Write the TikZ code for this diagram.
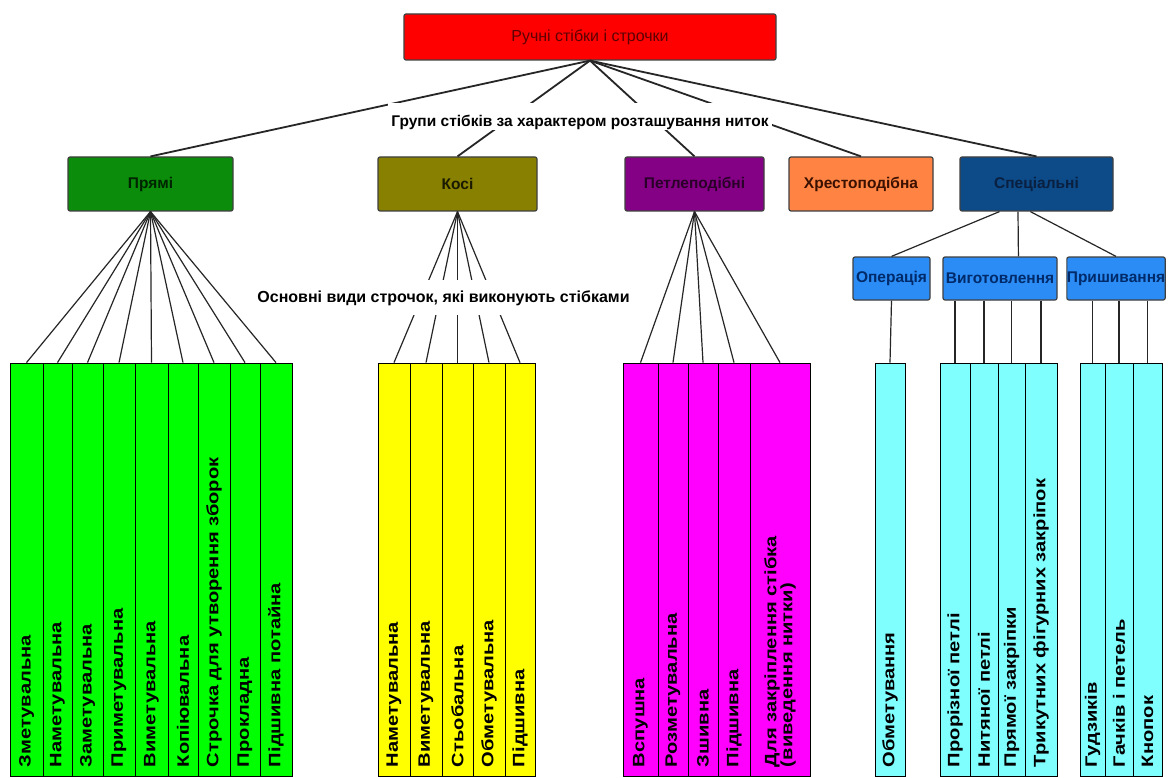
\documentclass[tikz,border=0pt]{standalone}
\usepackage{fontspec}
\setmainfont{Liberation Sans}
\newfontfamily\colfont[FakeStretch=1.22]{Liberation Sans Bold}
\usetikzlibrary{calc}

\definecolor{cRed}{HTML}{FF0000}
\definecolor{tRed}{HTML}{5C0000}
\definecolor{cGreen}{HTML}{0B8C0B}
\definecolor{tGreen}{HTML}{002400}
\definecolor{cOlive}{HTML}{878000}
\definecolor{tOlive}{HTML}{1A1A00}
\definecolor{cPurple}{HTML}{840084}
\definecolor{tPurple}{HTML}{2A002A}
\definecolor{cOrange}{HTML}{FF8444}
\definecolor{tOrange}{HTML}{3A1000}
\definecolor{cNavy}{HTML}{0C4A88}
\definecolor{tNavy}{HTML}{0A2040}
\definecolor{cBlue}{HTML}{2A8CF4}
\definecolor{tBlue}{HTML}{002A6A}
\definecolor{colGreen}{HTML}{00FF00}
\definecolor{colYellow}{HTML}{FFFF00}
\definecolor{colMagenta}{HTML}{FF00FF}
\definecolor{colCyan}{HTML}{80FFFF}

\tikzset{
  box/.style={draw=black!75, line width=1.2pt, rounded corners=2pt,
    inner sep=0pt, font=\bfseries\fontsize{15.5}{18}\selectfont},
  colbox/.style={draw=black, line width=0.8pt, rotate=90,
    minimum width=413pt, text width=395pt, inner xsep=9pt, inner ysep=0pt,
    align=left, font=\colfont\fontsize{16.5}{16}\selectfont},
  fan/.style={draw=black!85, line width=1.2pt},
  trunk/.style={draw=black!85, line width=1.8pt},
  cover/.style={fill=white, inner xsep=3pt, inner ysep=0pt, anchor=base}
}

\begin{document}
\begin{tikzpicture}[x=1pt, y=-1pt]
\useasboundingbox (0,0) rectangle (1170,778);
\fill[white] (0,0) rectangle (1170,778);

% root
\node[box, fill=cRed, text=tRed, minimum width=372pt, minimum height=46pt,
  font=\fontsize{16}{18}\selectfont]
  (root) at (590,37) {Ручні стібки і строчки};

% groups of stitches
\node[box, fill=cGreen, text=tGreen, minimum width=165pt, minimum height=54pt]
  (pryami) at (150.5,184) {Прямі};
\node[box, fill=cOlive, text=tOlive, minimum width=159pt, minimum height=54pt]
  (kosi) at (457.5,184) {Косі};
\node[box, fill=cPurple, text=tPurple, minimum width=139pt, minimum height=54pt]
  (petli) at (694.5,184) {Петлеподібні};
\node[box, fill=cOrange, text=tOrange, minimum width=144pt, minimum height=54pt]
  (khrest) at (861,184) {Хрестоподібна};
\node[box, fill=cNavy, text=tNavy, minimum width=153pt, minimum height=54pt]
  (spets) at (1036.5,184) {Спеціальні};

% special stitches subgroups
\node[box, fill=cBlue, text=tBlue, minimum width=77pt, minimum height=43pt]
  (oper) at (891.5,278.5) {Операція};
\node[box, fill=cBlue, text=tBlue, minimum width=114pt, minimum height=43pt]
  (vyg) at (1000,278.5) {Виготовлення};
\node[box, fill=cBlue, text=tBlue, minimum width=98pt, minimum height=43pt]
  (prysh) at (1116,278.5) {Пришивання};

% straight stitches
\foreach \l/\r/\t [count=\i] in {
  10/43/Зметувальна, 43/72/Наметувальна, 72/103/Заметувальна,
  103/135/Приметувальна, 135/168/Виметувальна, 168/198/Копіювальна,
  198/230/Строчка для утворення зборок, 230/260/Прокладна,
  260/292/Підшивна потайна}{
  \pgfmathsetmacro\w{\r-\l}
  \node[colbox, fill=colGreen, minimum height=\w pt]
    (g\i) at ({(\l+\r)/2},569.5) {\t};
}
% slanting stitches
\foreach \l/\r/\t [count=\i] in {
  378/410/Наметувальна, 410/442/Виметувальна, 442/473/Стьобальна,
  473/505/Обметувальна, 505/535/Підшивна}{
  \pgfmathsetmacro\w{\r-\l}
  \node[colbox, fill=colYellow, minimum height=\w pt]
    (y\i) at ({(\l+\r)/2},569.5) {\t};
}
% loop stitches
\foreach \l/\r/\t [count=\i] in {
  623/658/Вспушна, 658/688/Розметувальна, 688/718/Зшивна,
  718/750/Підшивна}{
  \pgfmathsetmacro\w{\r-\l}
  \node[colbox, fill=colMagenta, minimum height=\w pt]
    (m\i) at ({(\l+\r)/2},569.5) {\t};
}
\node[colbox, fill=colMagenta, minimum height=60pt]
  (m5) at (780,569.5) {Для закріплення стібка\\(виведення нитки)};
% special stitches
\node[colbox, fill=colCyan, minimum height=30pt] (c1) at (890,569.5) {Обметування};
\foreach \l/\r/\t [count=\i] in {
  940/970/Прорізної петлі, 970/998/Нитяної петлі,
  998/1025/Прямої закріпки, 1025/1057/Трикутних фігурних закріпок}{
  \pgfmathsetmacro\w{\r-\l}
  \node[colbox, fill=colCyan, minimum height=\w pt]
    (v\i) at ({(\l+\r)/2},569.5) {\t};
}
\foreach \l/\r/\t [count=\i] in {
  1080/1105/Гудзиків, 1105/1133/Гачків і петель, 1133/1162/Кнопок}{
  \pgfmathsetmacro\w{\r-\l}
  \node[colbox, fill=colCyan, minimum height=\w pt]
    (p\i) at ({(\l+\r)/2},569.5) {\t};
}

% connectors: root to groups
\foreach \n in {pryami,kosi,petli,khrest,spets}
  \draw[trunk] (root.south) -- (\n.north);

% connectors: groups to kinds of seams
\foreach \i in {1,...,9} \draw[fan] (pryami.south) -- (g\i.east);
\foreach \i in {1,...,5} \draw[fan] (kosi.south) -- (y\i.east);
\foreach \i in {1,...,5} \draw[fan] (petli.south) -- (m\i.east);

% special stitches tree
\draw[fan] ($(spets.south west)!0.26!(spets.south east)$) -- (oper.north);
\draw[fan] ($(spets.south west)!0.38!(spets.south east)$)
  -- ($(vyg.north west)!0.66!(vyg.north east)$);
\draw[fan] ($(spets.south west)!0.46!(spets.south east)$) -- (prysh.north);
\draw[fan] (oper.south) -- (c1.east);
\foreach \i in {1,...,4} \draw[fan] (v\i.east |- vyg.south) -- (v\i.east);
\foreach \i in {1,...,3} \draw[fan] (p\i.east |- prysh.south) -- (p\i.east);

% captions laid over the connectors
\node[cover, text height=24pt, text depth=3pt, font=\bfseries\fontsize{15.5}{18}\selectfont]
  (groupcap) at (580,127) {Групи стібків за характером розташування ниток};
\node[cover, text height=22pt, text depth=13pt, font=\bfseries\fontsize{16}{18}\selectfont]
  (seamcap) at (443.5,302) {Основні види строчок, які виконують стібками};
\end{tikzpicture}
\end{document}
